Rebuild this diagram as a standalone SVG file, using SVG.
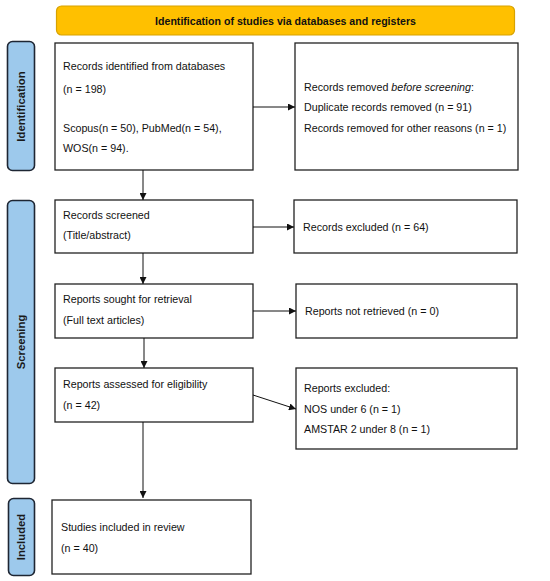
<svg xmlns="http://www.w3.org/2000/svg" width="550" height="581" viewBox="0 0 550 581">
<style>
.box{fill:#fff;stroke:#222;stroke-width:1.3}
.side{fill:#9DC9EC;stroke:#1E2633;stroke-width:1.6}
.t{font-family:"Liberation Sans",Arial,sans-serif;font-size:10.7px;fill:#111}
.sl{font-family:"Liberation Sans",Arial,sans-serif;font-size:11.3px;font-weight:bold;fill:#1a1a1a;text-anchor:middle}
.c{stroke:#111;stroke-width:1;fill:none;marker-end:url(#ah)}
</style>
<defs>
<marker id="ah" viewBox="0 0 10 10" refX="10" refY="5" markerWidth="7" markerHeight="7" markerUnits="userSpaceOnUse" orient="auto">
<path d="M0,0 L10,5 L0,10 z" fill="#111"/>
</marker>
</defs>
<rect width="550" height="581" fill="#fff"/>
<g id="banner">
<rect x="56.5" y="6" width="458" height="29" rx="5" fill="#FFC000" stroke="#D8A200" stroke-width="1.2"/>
<text x="285.5" y="24.5" font-family="'Liberation Sans',Arial,sans-serif" font-size="10.6" font-weight="bold" fill="#111" text-anchor="middle">Identification of studies via databases and registers</text>
</g>
<g id="label-identification">
<rect x="7.5" y="41.5" width="27" height="129" rx="5" class="side"/>
<text class="sl" transform="translate(25,106.5) rotate(-90)">Identification</text>
</g>
<g id="label-screening">
<rect x="7.5" y="200.5" width="27" height="283" rx="5" class="side"/>
<text class="sl" transform="translate(25,342) rotate(-90)">Screening</text>
</g>
<g id="label-included">
<rect x="8.5" y="498.5" width="26" height="77" rx="5" class="side"/>
<text class="sl" transform="translate(25,537) rotate(-90)">Included</text>
</g>
<g id="n-identified">
<rect x="55" y="43" width="198" height="127" class="box"/>
<text class="t" x="63" y="70">Records identified from databases</text>
<text class="t" x="63" y="93">(n = 198)</text>
<text class="t" x="63" y="132">Scopus(n = 50), PubMed(n = 54),</text>
<text class="t" x="63" y="152">WOS(n = 94).</text>
</g>
<g id="n-removed">
<rect x="295" y="43" width="223" height="127" class="box"/>
<text class="t" x="304" y="91">Records removed <tspan font-style="italic">before screening</tspan>:</text>
<text class="t" x="304" y="111">Duplicate records removed (n = 91)</text>
<text class="t" x="304" y="132">Records removed for other reasons (n = 1)</text>
</g>
<g id="n-screened">
<rect x="55" y="200" width="198" height="53" class="box"/>
<text class="t" x="63" y="219">Records screened</text>
<text class="t" x="63" y="239">(Title/abstract)</text>
</g>
<g id="n-excluded">
<rect x="294" y="200" width="223" height="53" class="box"/>
<text class="t" x="303" y="231">Records excluded (n = 64)</text>
</g>
<g id="n-sought">
<rect x="55" y="284" width="198" height="54" class="box"/>
<text class="t" x="63" y="303">Reports sought for retrieval</text>
<text class="t" x="63" y="324">(Full text articles)</text>
</g>
<g id="n-notretrieved">
<rect x="296" y="284" width="221" height="54" class="box"/>
<text class="t" x="305" y="315">Reports not retrieved (n = 0)</text>
</g>
<g id="n-assessed">
<rect x="55" y="368" width="198" height="54" class="box"/>
<text class="t" x="63" y="388">Reports assessed for eligibility</text>
<text class="t" x="63" y="409">(n = 42)</text>
</g>
<g id="n-reportsexcluded">
<rect x="296" y="368" width="221" height="81" class="box"/>
<text class="t" x="304" y="392">Reports excluded:</text>
<text class="t" x="304" y="413">NOS under 6 (n = 1)</text>
<text class="t" x="304" y="433">AMSTAR 2 under 8 (n = 1)</text>
</g>
<g id="n-included">
<rect x="52" y="500" width="199" height="74" class="box"/>
<text class="t" x="61" y="531">Studies included in review</text>
<text class="t" x="61" y="552">(n = 40)</text>
</g>
<g id="connectors">
<line class="c" x1="253" y1="107" x2="295" y2="107"/>
<line class="c" x1="143" y1="170" x2="143" y2="200"/>
<line class="c" x1="253" y1="227" x2="294" y2="227"/>
<line class="c" x1="143" y1="253" x2="143" y2="284"/>
<line class="c" x1="253" y1="311" x2="296" y2="311"/>
<line class="c" x1="144" y1="338" x2="144" y2="368"/>
<line class="c" x1="253" y1="395" x2="296" y2="409"/>
<line class="c" x1="143" y1="422" x2="143" y2="498"/>
</g>
</svg>
